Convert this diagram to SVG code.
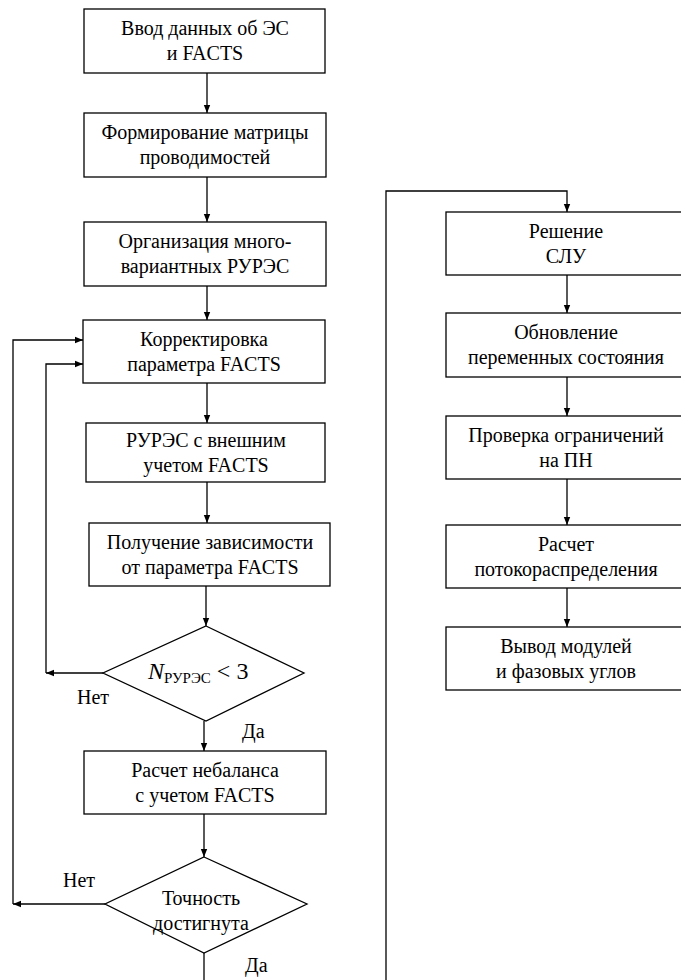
<svg xmlns="http://www.w3.org/2000/svg" width="681" height="980" viewBox="0 0 681 980">
<style>
.box{fill:#fff;stroke:#000;stroke-width:1.3}
.ln{fill:none;stroke:#000;stroke-width:1.3}
.t{font-family:"Liberation Serif","Times New Roman",serif;font-size:20px;fill:#000;text-anchor:middle}
.lb{font-family:"Liberation Serif","Times New Roman",serif;font-size:20px;fill:#000}
</style>
<defs>
<marker id="ah" viewBox="0 0 10 10" refX="10" refY="5" markerWidth="8" markerHeight="8" markerUnits="userSpaceOnUse" orient="auto">
<path d="M0,1 L10,5 L0,9 Z" fill="#000"/>
</marker>
</defs>
<rect width="681" height="980" fill="#fff"/>
<g id="connectors">
<line class="ln" x1="207" y1="73" x2="207" y2="113" marker-end="url(#ah)"/>
<line class="ln" x1="207" y1="177" x2="207" y2="222" marker-end="url(#ah)"/>
<line class="ln" x1="207" y1="286" x2="207" y2="320" marker-end="url(#ah)"/>
<line class="ln" x1="207" y1="383" x2="207" y2="423" marker-end="url(#ah)"/>
<line class="ln" x1="207" y1="482" x2="207" y2="523" marker-end="url(#ah)"/>
<line class="ln" x1="206" y1="586" x2="206" y2="626" marker-end="url(#ah)"/>
<line class="ln" x1="204" y1="721" x2="204" y2="751" marker-end="url(#ah)"/>
<line class="ln" x1="204" y1="814" x2="204" y2="857" marker-end="url(#ah)"/>
<line class="ln" x1="204" y1="953" x2="204" y2="980"/>
<line class="ln" x1="103" y1="673" x2="46" y2="673" marker-end="url(#ah)"/>
<polyline class="ln" points="46,673 46,364 83,364" marker-end="url(#ah)"/>
<line class="ln" x1="105" y1="904" x2="13" y2="904" marker-end="url(#ah)"/>
<polyline class="ln" points="13,904 13,340 83,340" marker-end="url(#ah)"/>
<polyline class="ln" points="386,980 386,191 567,191 567,212" marker-end="url(#ah)"/>
<line class="ln" x1="567" y1="275" x2="567" y2="313" marker-end="url(#ah)"/>
<line class="ln" x1="567" y1="377" x2="567" y2="416" marker-end="url(#ah)"/>
<line class="ln" x1="567" y1="479" x2="567" y2="525" marker-end="url(#ah)"/>
<line class="ln" x1="567" y1="588" x2="567" y2="627" marker-end="url(#ah)"/>
</g>
<g id="n1"><rect class="box" x="84" y="9" width="241" height="64"/>
<text class="t" x="205"><tspan x="205" y="35">Ввод данных об ЭС</tspan><tspan x="205" y="60">и FACTS</tspan></text></g>
<g id="n2"><rect class="box" x="84" y="113" width="242" height="64"/>
<text class="t"><tspan x="205" y="139">Формирование матрицы</tspan><tspan x="205" y="164">проводимостей</tspan></text></g>
<g id="n3"><rect class="box" x="84" y="222" width="242" height="64"/>
<text class="t"><tspan x="205" y="248">Организация много-</tspan><tspan x="205" y="273">вариантных РУРЭС</tspan></text></g>
<g id="n4"><rect class="box" x="83" y="320" width="242" height="63"/>
<text class="t"><tspan x="204" y="346">Корректировка</tspan><tspan x="204" y="371">параметра FACTS</tspan></text></g>
<g id="n5"><rect class="box" x="86" y="423" width="239" height="59"/>
<text class="t"><tspan x="206" y="447">РУРЭС с внешним</tspan><tspan x="206" y="472">учетом FACTS</tspan></text></g>
<g id="n6"><rect class="box" x="89" y="523" width="241" height="63"/>
<text class="t"><tspan x="210" y="549">Получение зависимости</tspan><tspan x="210" y="574">от параметра FACTS</tspan></text></g>
<g id="d1"><polygon class="box" points="206,626 304,673 206,721 103,673"/>
<text font-family="Liberation Serif,serif" font-size="24" x="148" y="679"><tspan font-style="italic">N</tspan><tspan font-size="15" dy="4">РУРЭС</tspan><tspan dy="-4"> &lt; 3</tspan></text></g>
<text class="lb" x="77" y="704">Нет</text>
<text class="lb" x="242" y="738">Да</text>
<g id="n7"><rect class="box" x="84" y="751" width="242" height="63"/>
<text class="t"><tspan x="205" y="777">Расчет небаланса</tspan><tspan x="205" y="802">с учетом FACTS</tspan></text></g>
<g id="d2"><polygon class="box" points="204,857 307,904 204,953 105,904"/>
<text class="t"><tspan x="201" y="905">Точность</tspan><tspan x="201" y="930">достигнута</tspan></text></g>
<text class="lb" x="63" y="887">Нет</text>
<text class="lb" x="245" y="972">Да</text>
<g id="r1"><rect class="box" x="446" y="212" width="245" height="63"/>
<text class="t"><tspan x="566" y="238">Решение</tspan><tspan x="566" y="263">СЛУ</tspan></text></g>
<g id="r2"><rect class="box" x="446" y="313" width="245" height="64"/>
<text class="t"><tspan x="566" y="339">Обновление</tspan><tspan x="566" y="364">переменных состояния</tspan></text></g>
<g id="r3"><rect class="box" x="446" y="416" width="245" height="63"/>
<text class="t"><tspan x="566" y="442">Проверка ограничений</tspan><tspan x="566" y="467">на ПН</tspan></text></g>
<g id="r4"><rect class="box" x="446" y="525" width="245" height="63"/>
<text class="t"><tspan x="566" y="551">Расчет</tspan><tspan x="566" y="576">потокораспределения</tspan></text></g>
<g id="r5"><rect class="box" x="446" y="627" width="245" height="63"/>
<text class="t"><tspan x="566" y="653">Вывод модулей</tspan><tspan x="566" y="678">и фазовых углов</tspan></text></g>
</svg>
